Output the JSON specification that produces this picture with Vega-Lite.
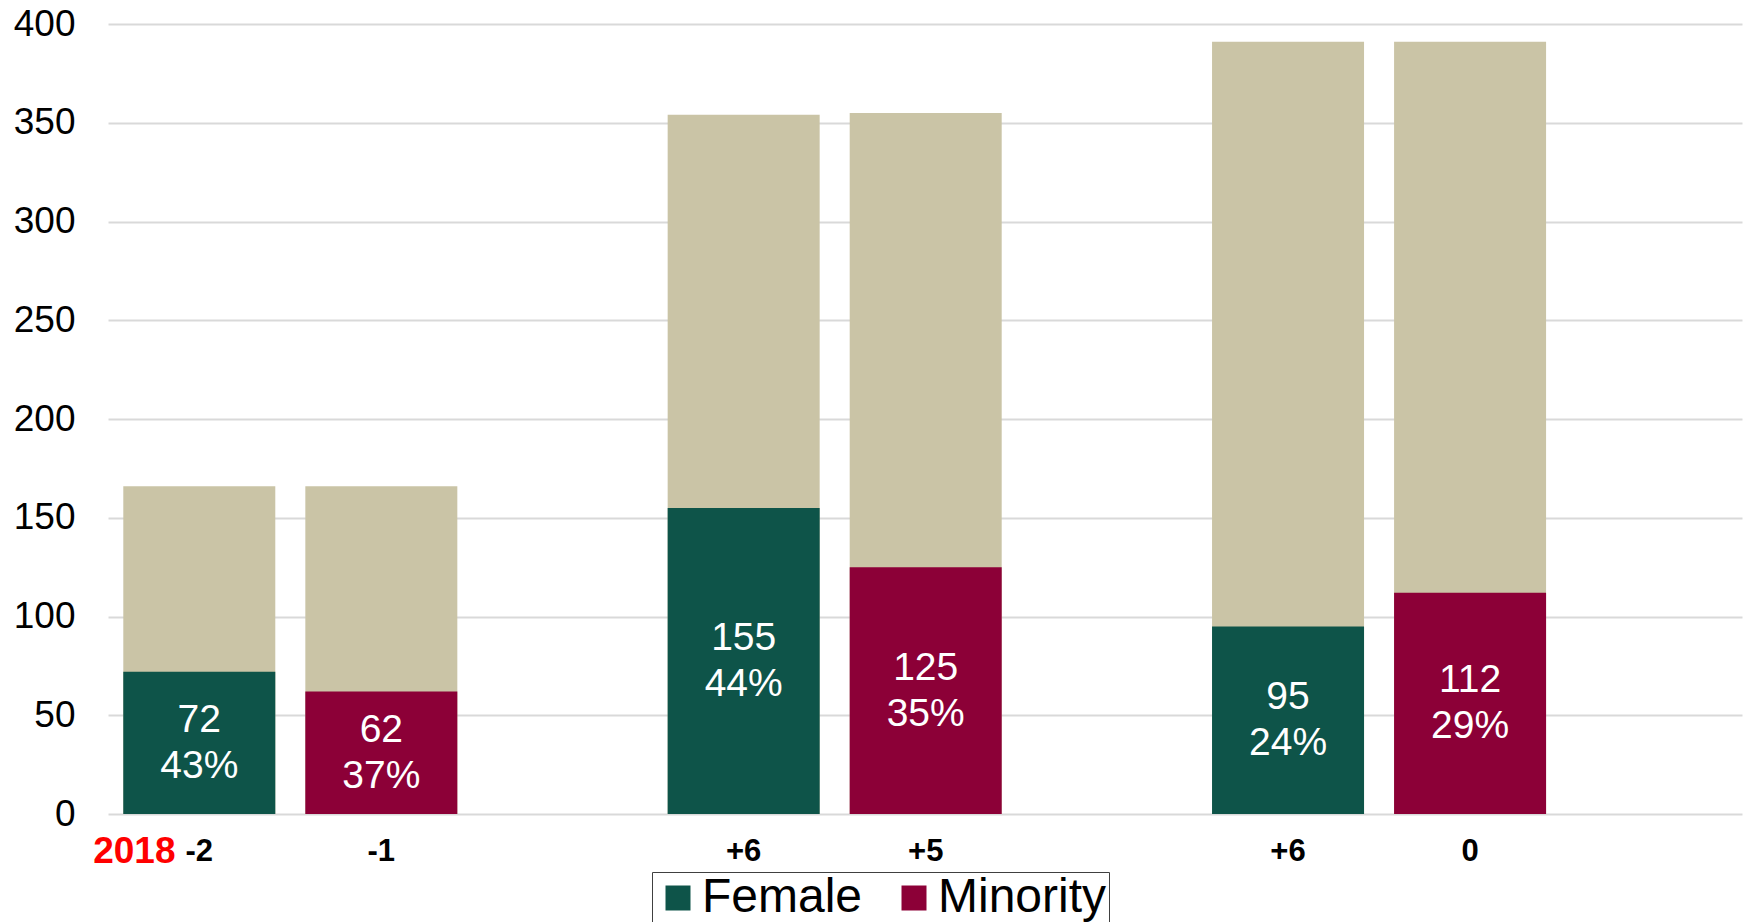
{
  "$schema": "https://vega.github.io/schema/vega-lite/v6.json",
  "width": 1634,
  "height": 790,
  "autosize": {"type": "none"},
  "padding": {"left": 108, "top": 24, "right": 5, "bottom": 108},
  "background": "white",
  "config": {"view": {"stroke": null}, "font": "Liberation Sans"},
  "data": {
    "values": [
      {"period": "2018", "series": "Female", "value": 72, "total": 166, "pct": 43, "change": "-2"},
      {"period": "2018", "series": "Minority", "value": 62, "total": 166, "pct": 37, "change": "-1"},
      {"period": "P2", "series": "Female", "value": 155, "total": 354, "pct": 44, "change": "+6"},
      {"period": "P2", "series": "Minority", "value": 125, "total": 355, "pct": 35, "change": "+5"},
      {"period": "P3", "series": "Female", "value": 95, "total": 391, "pct": 24, "change": "+6"},
      {"period": "P3", "series": "Minority", "value": 112, "total": 391, "pct": 29, "change": "0"}
    ]
  },
  "encoding": {
    "x": {
      "field": "period",
      "type": "nominal",
      "sort": null,
      "scale": {"paddingInner": 0.3864, "paddingOuter": 0.194, "align": 0.0724},
      "axis": {
        "title": null,
        "domain": false,
        "ticks": false,
        "tickSize": 0,
        "labelExpr": "datum.value == '2018' ? '2018' : ''",
        "labelColor": "#ff0000",
        "labelFont": "Liberation Sans",
        "labelFontSize": 37,
        "labelFontWeight": "bold",
        "labelOffset": -156,
        "labelPadding": 48,
        "labelBaseline": "alphabetic",
        "labelAngle": 0
      }
    },
    "xOffset": {
      "field": "series",
      "type": "nominal",
      "sort": ["Female", "Minority"],
      "scale": {"paddingInner": 0.165, "paddingOuter": 0}
    }
  },
  "layer": [
    {
      "mark": {"type": "bar", "color": "#cac4a6"},
      "encoding": {
        "y": {
          "field": "total",
          "type": "quantitative",
          "scale": {"domain": [0, 400]},
          "axis": {
            "title": null,
            "domain": false,
            "ticks": false,
            "tickSize": 0,
            "labelPadding": 33,
            "labelFontSize": 37,
            "labelColor": "black",
            "values": [0, 50, 100, 150, 200, 250, 300, 350, 400],
            "grid": true,
            "gridColor": "#d9d9d9",
            "gridWidth": 2
          }
        }
      }
    },
    {
      "mark": {"type": "bar"},
      "encoding": {
        "y": {"field": "value", "type": "quantitative"},
        "color": {
          "field": "series",
          "type": "nominal",
          "scale": {"domain": ["Female", "Minority"], "range": ["#0e5449", "#8c0037"]},
          "legend": {
            "title": null,
            "orient": "none",
            "legendX": 544,
            "legendY": 848,
            "direction": "horizontal",
            "symbolType": "square",
            "symbolSize": 625,
            "symbolStrokeWidth": 0,
            "labelFontSize": 48,
            "labelLimit": 600,
            "labelColor": "black",
            "labelOffset": 0,
            "columnPadding": 27,
            "padding": 2,
            "strokeColor": "#404040"
          }
        }
      }
    },
    {
      "transform": [
        {"calculate": "datum.value / 2", "as": "mid"},
        {"calculate": "datum.value + '\\n' + datum.pct + '%'", "as": "label"}
      ],
      "mark": {"type": "text", "color": "white", "fontSize": 39, "lineHeight": 46, "lineBreak": "\n", "baseline": "middle", "align": "center", "dy": -23},
      "encoding": {
        "y": {"field": "mid", "type": "quantitative"},
        "text": {"field": "label", "type": "nominal"}
      }
    },
    {
      "mark": {"type": "text", "fontSize": 31, "fontWeight": "bold", "color": "black", "baseline": "alphabetic", "align": "center", "dy": 47},
      "encoding": {
        "y": {"datum": 0, "type": "quantitative"},
        "text": {"field": "change", "type": "nominal"}
      }
    }
  ]
}
